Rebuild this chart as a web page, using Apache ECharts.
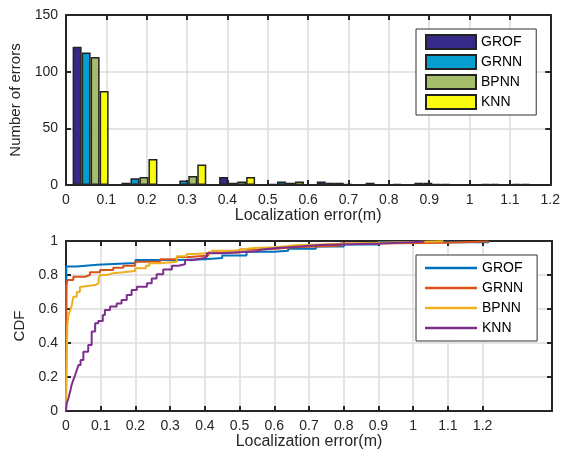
<!DOCTYPE html>
<html>
<head>
<meta charset="utf-8">
<script src="https://cdn.jsdelivr.net/npm/echarts@6/dist/echarts.min.js"></script>
<style>
html,body{margin:0;padding:0;background:#fff;}
#c{width:563px;height:457px;}
</style>
</head>
<body>
<div id="c"></div>
<script>
// ---- Histogram data (top) ----
var binCenters = [0.061, 0.182, 0.303, 0.424, 0.545, 0.666, 0.787, 0.908, 1.029, 1.150];
var grofCounts = [122, 2, 0, 7, 1, 3, 2, 2, 0, 1];
var grnnCounts = [117, 6, 4, 2, 3, 2, 0, 2, 0, 1];
var bpnnCounts = [113, 7, 8, 3, 2, 2, 0, 1, 1, 0];
var knnCounts  = [83, 23, 18, 7, 3, 1, 1, 1, 1, 0];
var histXTicks = [0,0.1,0.2,0.3,0.4,0.5,0.6,0.7,0.8,0.9,1,1.1,1.2];

// ---- CDF data (bottom): step points (x where CDF becomes y) ----
var grofX = [0, 0.001, 0.03, 0.09, 0.2, 0.32, 0.40, 0.45, 0.52, 0.6, 0.64, 0.72, 0.80, 0.90, 1.217];
var grofY = [0, 0.85, 0.86, 0.87, 0.888, 0.893, 0.90, 0.915, 0.937, 0.943, 0.955, 0.967, 0.98, 0.993, 1.0];
var grnnX = [0, 0.001, 0.004, 0.021, 0.055, 0.069, 0.098, 0.136, 0.165, 0.199, 0.271, 0.319, 0.357, 0.41, 0.50, 0.559, 0.607, 0.655, 0.79, 0.895, 1.088, 1.217];
var grnnY = [0, 0.74, 0.77, 0.79, 0.80, 0.816, 0.83, 0.843, 0.855, 0.878, 0.892, 0.906, 0.915, 0.932, 0.95, 0.955, 0.963, 0.972, 0.986, 0.99, 0.997, 1.0];
var bpnnX = [0, 0.001, 0.004, 0.007, 0.0125, 0.017, 0.021, 0.031, 0.04, 0.045, 0.084, 0.094, 0.098, 0.117, 0.136, 0.165, 0.199, 0.23, 0.24, 0.271, 0.319, 0.348, 0.367, 0.42, 0.487, 0.506, 0.54, 0.602, 0.636, 0.655, 0.732, 0.905, 1.087];
var bpnnY = [0, 0.17, 0.506, 0.565, 0.594, 0.624, 0.672, 0.70, 0.73, 0.741, 0.751, 0.78, 0.80, 0.81, 0.816, 0.824, 0.84, 0.855, 0.869, 0.878, 0.91, 0.924, 0.929, 0.943, 0.95, 0.959, 0.963, 0.969, 0.975, 0.98, 0.99, 0.998, 1.0];
var knnX = [0, 0.002, 0.007, 0.012, 0.016, 0.021, 0.026, 0.031, 0.036, 0.042, 0.05, 0.064, 0.074, 0.084, 0.093, 0.106, 0.112, 0.127, 0.146, 0.16, 0.175, 0.189, 0.204, 0.233, 0.247, 0.261, 0.28, 0.305, 0.324, 0.343, 0.367, 0.396, 0.406, 0.449, 0.55, 0.559, 0.607, 0.655, 0.732, 0.905, 1.03];
var knnY = [0, 0.045, 0.075, 0.114, 0.153, 0.182, 0.21, 0.24, 0.27, 0.30, 0.349, 0.388, 0.467, 0.516, 0.529, 0.565, 0.594, 0.614, 0.633, 0.653, 0.682, 0.712, 0.731, 0.751, 0.78, 0.804, 0.833, 0.855, 0.863, 0.888, 0.898, 0.908, 0.928, 0.939, 0.949, 0.959, 0.965, 0.976, 0.986, 0.995, 1.0];
var cdfXTicks = [0,0.1,0.2,0.3,0.4,0.5,0.6,0.7,0.8,0.9,1,1.1,1.2];

var methodNames = ['GROF', 'GRNN', 'BPNN', 'KNN'];

var FONT = 'Liberation Sans, Arial, Helvetica, sans-serif';
var AX = '#262626';
var GRIDC = '#dcdcdc';
var barColors = ['#352a87', '#079dcf', '#a5be6b', '#f9fb0e'];
var lineColors = ['#0072bd', '#d95319', '#edb120', '#7e2f8e'];

function pairs(xs, ys) { return xs.map(function (x, i) { return [x, ys[i]]; }); }
function fmt(v) { return String(Math.round(v * 10) / 10); }

var chart = echarts.init(document.getElementById('c'), null, {renderer: 'canvas'});

function xMain(gridIndex, max, ticks) {
  return {
    type: 'value', gridIndex: gridIndex, min: 0, max: max, interval: 0.1,
    position: 'bottom',
    axisLine: {show: true, onZero: false, lineStyle: {color: AX, width: 2}},
    axisTick: {show: true, inside: true, length: 5, customValues: ticks, lineStyle: {color: AX, width: 2}},
    axisLabel: {show: true, customValues: ticks, formatter: fmt, color: '#262626', fontSize: 14, fontFamily: FONT, margin: 8},
    splitLine: {show: true, lineStyle: {color: GRIDC, width: 1.5}},
    name: 'Localization error(m)', nameLocation: 'middle', nameGap: 22,
    nameTextStyle: {color: '#262626', fontSize: 16, fontFamily: FONT}
  };
}
function xTop(gridIndex, max, ticks) {
  return {
    type: 'value', gridIndex: gridIndex, min: 0, max: max, interval: 0.1,
    position: 'top',
    axisLine: {show: true, onZero: false, lineStyle: {color: AX, width: 2}},
    axisTick: {show: true, inside: true, length: 5, customValues: ticks, lineStyle: {color: AX, width: 2}},
    axisLabel: {show: false},
    splitLine: {show: false}
  };
}
function yMain(gridIndex, max, interval, name, fmtFn) {
  return {
    type: 'value', gridIndex: gridIndex, min: 0, max: max, interval: interval,
    position: 'left',
    axisLine: {show: true, onZero: false, lineStyle: {color: AX, width: 2}},
    axisTick: {show: true, inside: true, length: 5, lineStyle: {color: AX, width: 2}},
    axisLabel: {show: true, color: '#262626', fontSize: 14, fontFamily: FONT, margin: 8, formatter: fmtFn},
    splitLine: {show: true, lineStyle: {color: GRIDC, width: 1.5}},
    name: name, nameLocation: 'middle', nameGap: 36, nameRotate: 90,
    nameTextStyle: {color: '#262626', fontSize: 15, fontFamily: FONT}
  };
}
function yRight(gridIndex, max, interval) {
  return {
    type: 'value', gridIndex: gridIndex, min: 0, max: max, interval: interval,
    position: 'right',
    axisLine: {show: true, onZero: false, lineStyle: {color: AX, width: 2}},
    axisTick: {show: true, inside: true, length: 5, lineStyle: {color: AX, width: 2}},
    axisLabel: {show: false},
    splitLine: {show: false}
  };
}

var countArrays = [grofCounts, grnnCounts, bpnnCounts, knnCounts];
var barSeries = countArrays.map(function (arr, i) {
  return {
    name: methodNames[i], type: 'bar', xAxisIndex: 0, yAxisIndex: 0,
    barWidth: 9, barGap: '0%',
    itemStyle: {color: barColors[i], borderColor: '#222', borderWidth: 1.5},
    data: pairs(binCenters, arr),
    z: 3
  };
});

var cdfXs = [grofX, grnnX, bpnnX, knnX];
var cdfYs = [grofY, grnnY, bpnnY, knnY];
var lineSeries = cdfXs.map(function (xs, i) {
  return {
    name: methodNames[i] + ' ', type: 'line', xAxisIndex: 2, yAxisIndex: 2,
    step: 'end', showSymbol: false, symbol: 'none',
    lineStyle: {color: lineColors[i], width: 2},
    itemStyle: {color: lineColors[i]},
    data: pairs(xs, cdfYs[i]),
    z: 3 + i
  };
});

var option = {
  backgroundColor: '#fff',
  animation: false,
  grid: [
    {left: 66, top: 15, width: 486, height: 170},
    {left: 66, top: 241, width: 486, height: 170}
  ],
  xAxis: [
    xMain(0, 1.2, histXTicks),
    xTop(0, 1.2, histXTicks),
    xMain(1, 1.4, cdfXTicks),
    xTop(1, 1.4, cdfXTicks)
  ],
  yAxis: [
    yMain(0, 150, 50, 'Number of errors'),
    yRight(0, 150, 50),
    yMain(1, 1, 0.2, 'CDF', function (v) { return fmt(v); }),
    yRight(1, 1, 0.2)
  ],
  legend: [
    {
      data: methodNames, orient: 'vertical', left: 416, top: 29,
      padding: [5, 14, 5, 9], itemGap: 4, itemWidth: 50, itemHeight: 14,
      backgroundColor: '#fff', borderColor: '#333', borderWidth: 1,
      icon: 'rect',
      textStyle: {color: '#000', fontSize: 14, fontFamily: FONT, height: 16, lineHeight: 16},
      selectedMode: false
    },
    {
      data: methodNames.map(function (n) { return n + ' '; }), orient: 'vertical', left: 416, top: 255,
      padding: [5, 10, 5, 9], itemGap: 4, itemWidth: 52, itemHeight: 2.5,
      backgroundColor: '#fff', borderColor: '#333', borderWidth: 1,
      icon: 'rect',
      textStyle: {color: '#000', fontSize: 14, fontFamily: FONT, height: 16, lineHeight: 16},
      selectedMode: false
    }
  ],
  series: barSeries.concat(lineSeries)
};
chart.setOption(option);
</script>
</body>
</html>
